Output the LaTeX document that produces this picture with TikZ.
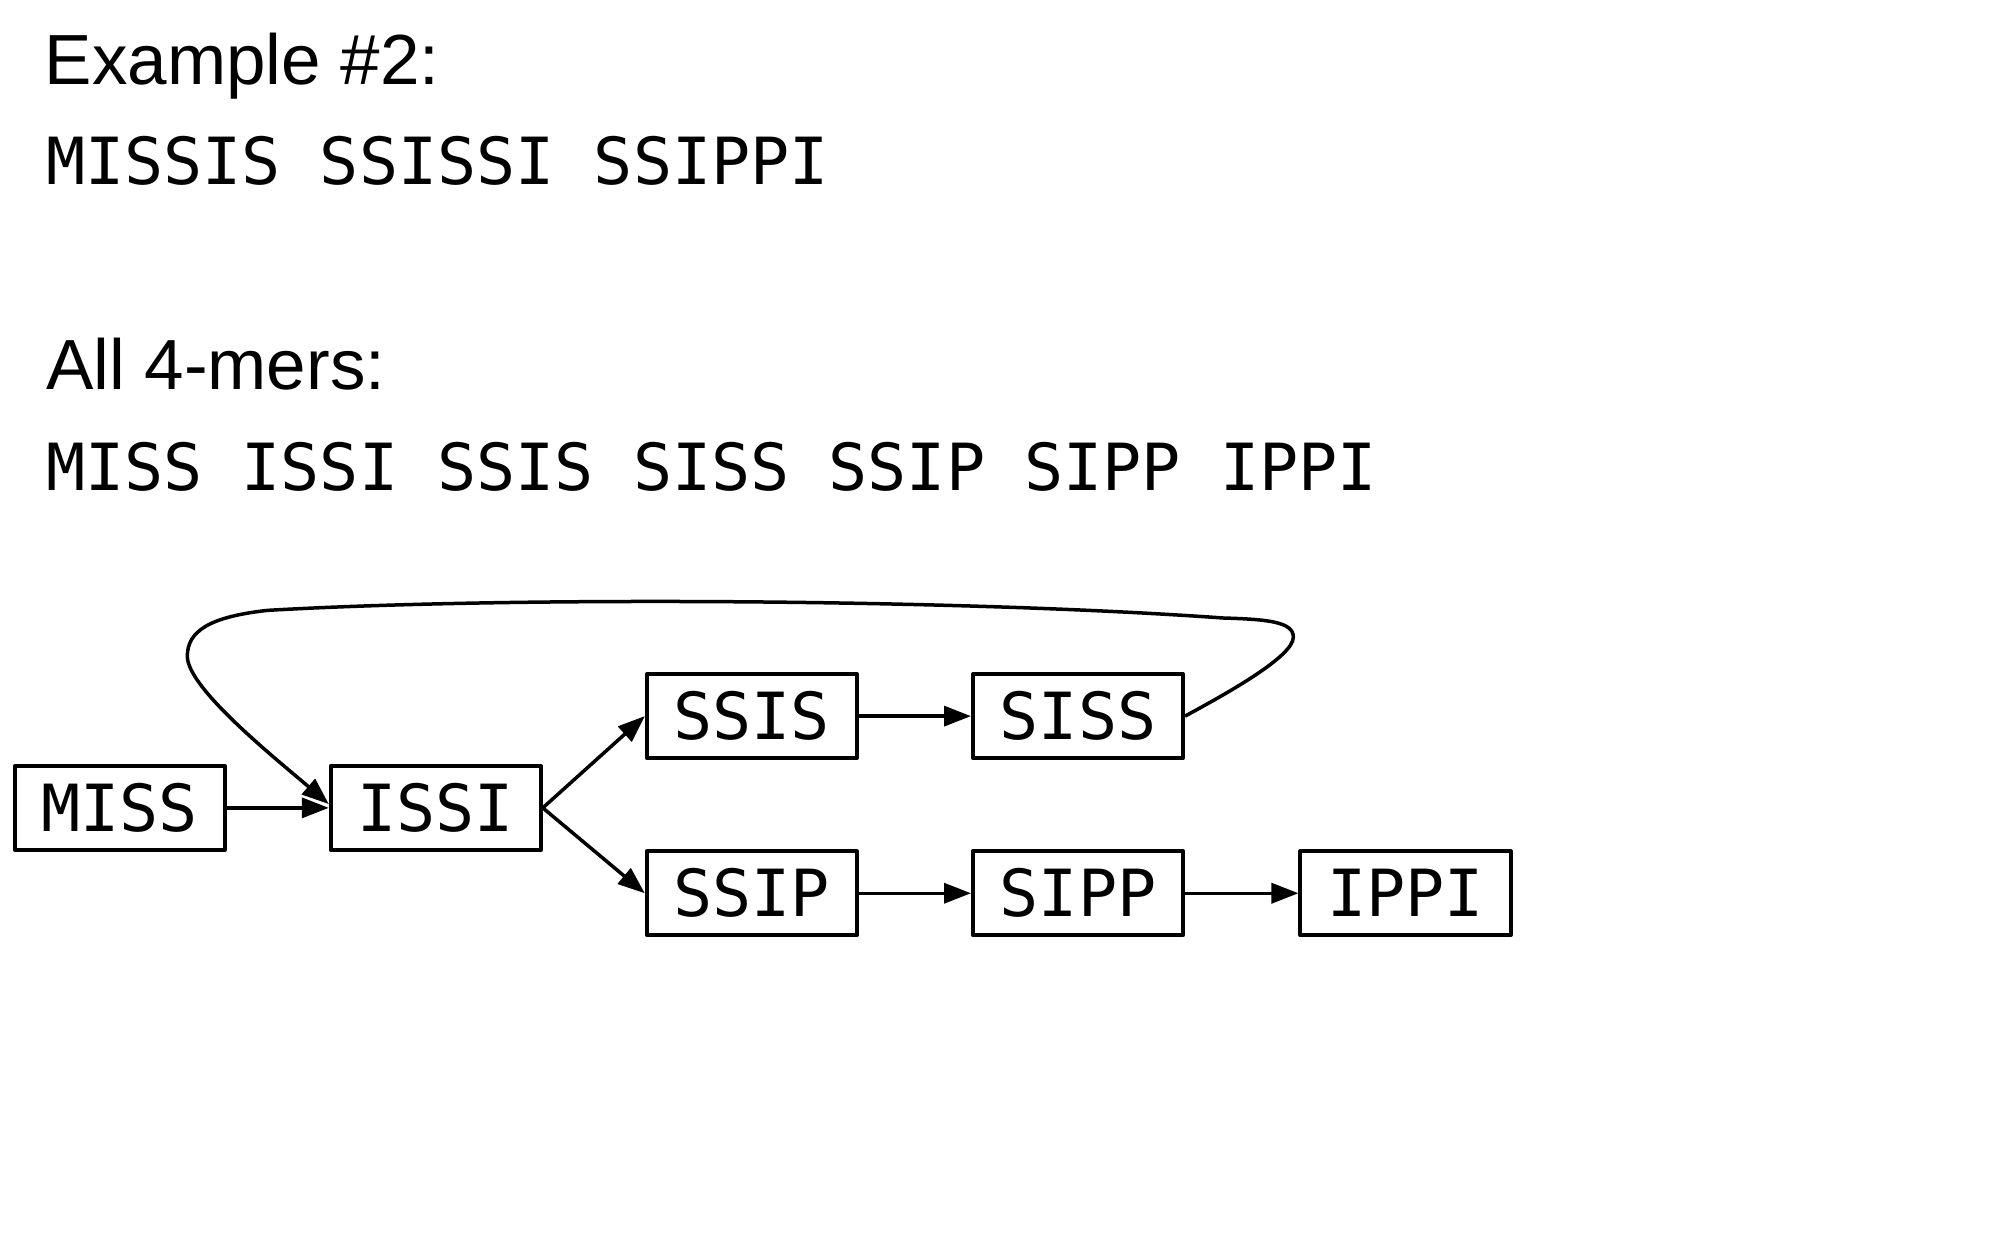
\documentclass[tikz,border=0pt]{standalone}
\usepackage{fontspec}
\setmainfont{Liberation Sans}
\newfontfamily\monof{DejaVu Sans Mono}
\usetikzlibrary{arrows.meta,calc}
\tikzset{
  kbox/.style={draw, line width=4pt, line join=round, minimum width=210pt, minimum height=84pt,
    inner sep=0pt, font=\monof\fontsize{65}{70}\selectfont},
  conn/.style={line width=3.5pt, -{Triangle[length=27pt,width=20pt]}},
  sanstext/.style={anchor=base west, inner sep=0pt, font=\fontsize{71}{80}\selectfont},
  monotext/.style={anchor=base west, inner sep=0pt, font=\monof\fontsize{65}{70}\selectfont},
}
\begin{document}
\begin{tikzpicture}[x=1.2742pt, y=-1.2742pt]
\path[use as bounding box] (0,0) rectangle (1568,984);
\node[sanstext] (t1) at (35,66) {Example \#2:};
\node[monotext] (t2) at (36,145) {MISSIS SSISSI SSIPPI};
\node[sanstext] (t3) at (36,306) {All 4-mers:};
\node[monotext] (t4) at (36,385) {MISS ISSI SSIS SISS SSIP SIPP IPPI};

\node[kbox] (miss) at (94,634) {MISS};
\node[kbox] (issi) at (342,634) {ISSI};
\node[kbox] (ssis) at (590,562) {SSIS};
\node[kbox] (siss) at (846,562) {SISS};
\node[kbox] (ssip) at (590,701) {SSIP};
\node[kbox] (sipp) at (846,701) {SIPP};
\node[kbox] (ippi) at (1103,701) {IPPI};

\draw[conn] (miss.east) -- (issi.west);
\draw[conn] (issi.east) -- (ssis.west);
\draw[conn] (issi.east) -- (ssip.west);
\draw[conn] (ssis.east) -- (siss.west);
\draw[conn] (ssip.east) -- (sipp.west);
\draw[conn] (sipp.east) -- (ippi.west);
\draw[conn] (siss.east) .. controls (965,543) and (1015,515) .. (1015,500)
  .. controls (1015,488) and (995,486) .. (960,485)
  .. controls (750,470) and (400,468) .. (210,479)
  .. controls (165,484) and (147,495) .. (147,515)
  .. controls (147,540) and (216,595) .. ($(issi.west)+(0,-3)$);
\end{tikzpicture}
\end{document}
